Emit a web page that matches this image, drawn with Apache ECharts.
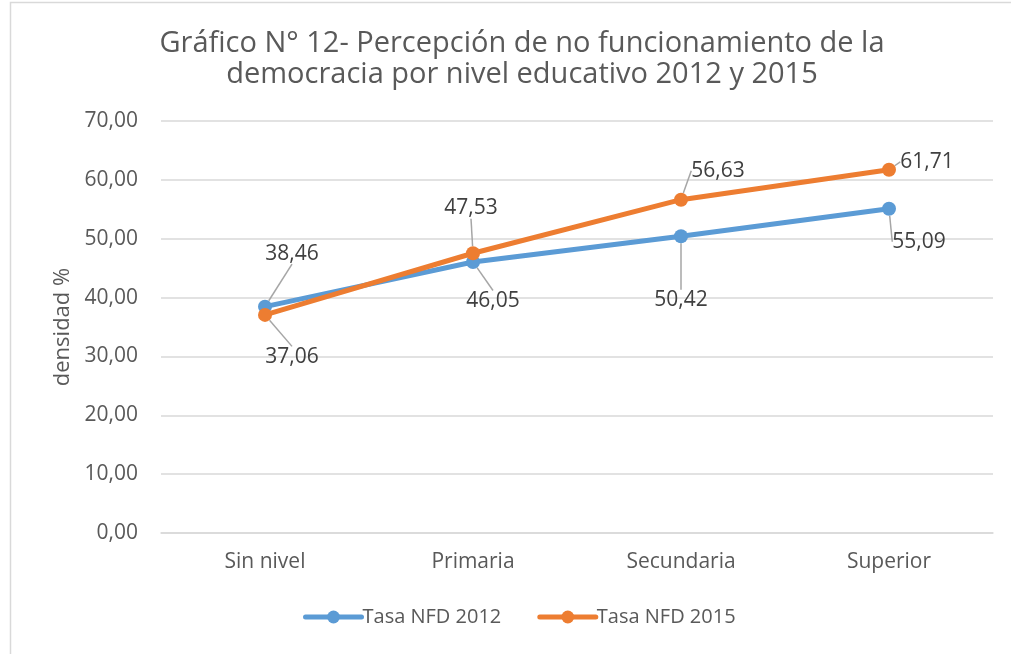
<!DOCTYPE html>
<html>
<head>
<meta charset="utf-8">
<script src="https://cdn.jsdelivr.net/npm/echarts@6/dist/echarts.min.js"></script>
<style>
html,body{margin:0;padding:0;background:#fff;}
#chart{width:1011px;height:654px;}
</style>
</head>
<body>
<div id="chart"></div>
<script>
const categories = ['Sin nivel', 'Primaria', 'Secundaria', 'Superior'];
const serie2012 = [38.46, 46.05, 50.42, 55.09];
const serie2015 = [37.06, 47.53, 56.63, 61.71];
const seriesNames = ['Tasa NFD 2012', 'Tasa NFD 2015'];
const yTicks = { min: 0, max: 70, interval: 10 };

// label displacement (style, per point)
const labelShift = [
  [[27, -53], [20, 39], [0, 64], [30, 33]],
  [[27, 42], [-2, -45], [37, -29], [38, -8]]
];

const fmt = v => v.toFixed(2).replace('.', ',');
const FONT = 'Open Sans';

const chart = echarts.init(document.getElementById('chart'));
function mkSeries(idx, data, color) {
  return {
    name: seriesNames[idx],
    type: 'line',
    data: data,
    symbol: 'circle',
    symbolSize: 14,
    lineStyle: { width: 5, color: color, cap: 'round' },
    itemStyle: { color: color },
    z: 2 + idx,
    label: {
      show: true,
      position: 'inside',
      formatter: p => fmt(p.value),
      fontFamily: FONT,
      fontSize: 21,
      color: '#404040'
    },
    labelLine: { show: true, lineStyle: { color: '#a6a6a6', width: 1.5 } },
    labelLayout: function (params) {
      const s = labelShift[idx][params.dataIndex];
      return { dx: s[0], dy: s[1] };
    }
  };
}

chart.setOption({
  animation: false,
  backgroundColor: '#fff',
  graphic: [{
    type: 'rect',
    shape: { x: 10.5, y: 2.5, width: 1100, height: 700 },
    style: { fill: 'none', stroke: '#d9d9d9', lineWidth: 1.5 },
    silent: true
  }],
  title: {
    text: 'Gráfico N° 12- Percepción de no funcionamiento de la\ndemocracia por nivel educativo 2012 y 2015',
    left: 517,
    textAlign: 'center',
    top: 23,
    textStyle: {
      fontFamily: FONT,
      fontSize: 29,
      fontWeight: 'normal',
      color: '#595959',
      lineHeight: 31
    }
  },
  legend: {
    bottom: 22,
    left: 298,
    itemWidth: 56,
    itemHeight: 16,
    itemGap: 36,
    lineStyle: { width: 5 },
    textStyle: { fontFamily: FONT, fontSize: 20, color: '#595959', padding: [0, 0, 0, -4] },
    data: seriesNames
  },
  grid: { left: 161, right: 18, top: 121, bottom: 121 },
  xAxis: {
    type: 'category',
    data: categories,
    axisLine: { show: true, lineStyle: { color: '#d9d9d9', width: 1.5 } },
    axisTick: { show: false },
    axisLabel: { fontFamily: FONT, fontSize: 21, color: '#595959', margin: 19 }
  },
  yAxis: {
    type: 'value',
    min: yTicks.min,
    max: yTicks.max,
    interval: yTicks.interval,
    name: 'densidad %',
    nameLocation: 'middle',
    nameGap: 75,
    nameTextStyle: { fontFamily: FONT, fontSize: 22, color: '#595959' },
    axisLine: { show: false },
    axisTick: { show: false },
    splitLine: { lineStyle: { color: '#d9d9d9', width: 1.5 } },
    axisLabel: { fontFamily: FONT, fontSize: 21, color: '#595959', margin: 23, formatter: v => fmt(v) }
  },
  series: [
    mkSeries(0, serie2012, '#5B9BD5'),
    mkSeries(1, serie2015, '#ED7D31')
  ]
});
</script>
</body>
</html>
